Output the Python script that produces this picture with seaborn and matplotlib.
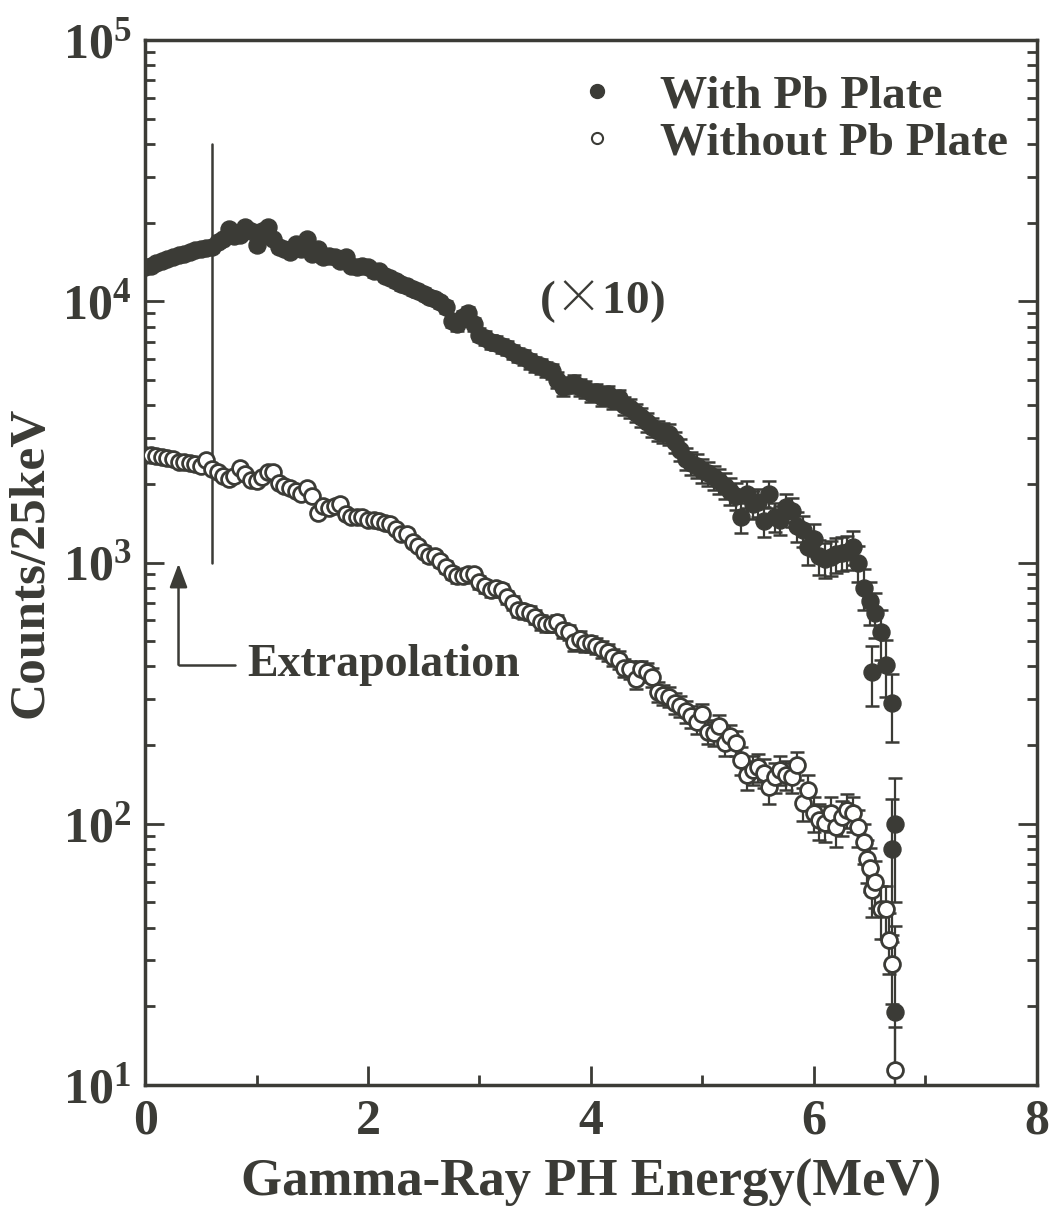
import numpy as np
import pandas as pd
import matplotlib
matplotlib.use("Agg")
import matplotlib.pyplot as plt
from matplotlib.lines import Line2D
from matplotlib.ticker import MultipleLocator, LogLocator, NullFormatter
import seaborn as sns

# Pulse-height spectra, 25 keV bins (values with the Pb plate are scaled x10)
energy_with = [
    0.00, 0.05, 0.10, 0.15, 0.20, 0.25, 0.30, 0.35, 0.40, 0.45,
    0.50, 0.55, 0.60, 0.65, 0.70, 0.75, 0.80, 0.85, 0.90, 0.95,
    1.00, 1.05, 1.10, 1.15, 1.20, 1.25, 1.30, 1.35, 1.40, 1.45,
    1.50, 1.55, 1.60, 1.65, 1.70, 1.75, 1.80, 1.85, 1.90, 1.95,
    2.00, 2.05, 2.10, 2.15, 2.20, 2.25, 2.30, 2.35, 2.40, 2.45,
    2.50, 2.55, 2.60, 2.65, 2.70, 2.75, 2.80, 2.85, 2.90, 2.95,
    3.00, 3.05, 3.10, 3.15, 3.20, 3.25, 3.30, 3.35, 3.40, 3.45,
    3.50, 3.55, 3.60, 3.65, 3.70, 3.75, 3.80, 3.85, 3.90, 3.95,
    4.00, 4.05, 4.10, 4.15, 4.20, 4.25, 4.30, 4.35, 4.40, 4.45,
    4.50, 4.55, 4.60, 4.65, 4.70, 4.75, 4.80, 4.85, 4.90, 4.95,
    5.00, 5.05, 5.10, 5.15, 5.20, 5.25, 5.30, 5.35, 5.40, 5.45,
    5.50, 5.55, 5.60, 5.65, 5.70, 5.75, 5.80, 5.85, 5.90, 5.95,
    6.00, 6.05, 6.10, 6.15, 6.20, 6.25, 6.30, 6.35, 6.40, 6.45,
    6.50, 6.525, 6.55, 6.60, 6.65, 6.70, 6.70, 6.725, 6.725,
]
counts_with = [
    13500, 13700, 13950, 14200, 14450, 14750, 15000, 15200, 15400, 15700,
    15800, 16000, 16100, 16800, 17300, 18900, 17800, 17900, 19200, 18500,
    16400, 18500, 19200, 17300, 16100, 15800, 15500, 16500, 15800, 17300,
    15200, 15800, 14750, 14850, 14750, 14200, 14750, 13700, 13500, 13700,
    13500, 13000, 13000, 12500, 12300, 11900, 11600, 11400, 11100, 10900,
    10700, 10400, 10200, 9900, 9500, 8400, 8150, 8700, 9000, 8150,
    7450, 7250, 7000, 6950, 6750, 6650, 6400, 6250, 6100, 5900,
    5750, 5650, 5500, 5400, 5000, 4700, 4800, 4850, 4700, 4600,
    4450, 4500, 4300, 4400, 4200, 4250, 4000, 3900, 3750, 3600,
    3450, 3300, 3200, 3150, 3100, 2900, 2700, 2500, 2400, 2350,
    2250, 2200, 2120, 2050, 1970, 1880, 1800, 1490, 1830, 1670,
    1700, 1440, 1830, 1500, 1460, 1630, 1570, 1380, 1330, 1150,
    1230, 1060, 1030, 1050, 1080, 1090, 1100, 1150, 1000, 800,
    710, 380, 640, 540, 405, 290, 80, 100, 19,
]

energy_without = [
    0.00, 0.05, 0.10, 0.15, 0.20, 0.25, 0.30, 0.35, 0.40, 0.45,
    0.50, 0.55, 0.60, 0.65, 0.70, 0.75, 0.80, 0.85, 0.90, 0.95,
    1.00, 1.05, 1.10, 1.15, 1.20, 1.25, 1.30, 1.35, 1.40, 1.45,
    1.50, 1.55, 1.60, 1.65, 1.70, 1.75, 1.80, 1.85, 1.90, 1.95,
    2.00, 2.05, 2.10, 2.15, 2.20, 2.25, 2.30, 2.35, 2.40, 2.45,
    2.50, 2.55, 2.60, 2.65, 2.70, 2.75, 2.80, 2.85, 2.90, 2.95,
    3.00, 3.05, 3.10, 3.15, 3.20, 3.25, 3.30, 3.35, 3.40, 3.45,
    3.50, 3.55, 3.60, 3.65, 3.70, 3.75, 3.80, 3.85, 3.90, 3.95,
    4.00, 4.05, 4.10, 4.15, 4.20, 4.25, 4.30, 4.35, 4.40, 4.45,
    4.50, 4.55, 4.60, 4.65, 4.70, 4.75, 4.80, 4.85, 4.90, 4.95,
    5.00, 5.05, 5.10, 5.15, 5.20, 5.25, 5.30, 5.35, 5.40, 5.45,
    5.50, 5.55, 5.60, 5.65, 5.70, 5.75, 5.80, 5.85, 5.90, 5.95,
    6.00, 6.05, 6.10, 6.15, 6.20, 6.25, 6.30, 6.35, 6.40, 6.45,
    6.475, 6.50, 6.525, 6.55, 6.60, 6.65, 6.675, 6.70, 6.725,
]
counts_without = [
    2590, 2570, 2550, 2540, 2520, 2480, 2430, 2420, 2400, 2380,
    2350, 2470, 2270, 2220, 2150, 2090, 2150, 2310, 2190, 2070,
    2050, 2130, 2220, 2220, 2010, 1960, 1920, 1880, 1830, 1920,
    1800, 1550, 1640, 1610, 1650, 1680, 1530, 1500, 1490, 1490,
    1460, 1460, 1440, 1420, 1400, 1340, 1290, 1290, 1200, 1160,
    1100, 1060, 1060, 1010, 960, 915, 885, 885, 900, 900,
    840, 810, 785, 800, 785, 735, 700, 660, 650, 640,
    620, 590, 580, 580, 590, 550, 540, 495, 510, 490,
    490, 480, 465, 455, 435, 425, 395, 390, 357, 390,
    380, 365, 320, 312, 307, 290, 283, 270, 258, 245,
    262, 225, 222, 236, 204, 216, 204, 175, 154, 161,
    165, 157, 138, 151, 161, 154, 151, 168, 120, 135,
    110, 103, 101, 110, 97, 106, 113, 110, 97, 85,
    73, 68, 56, 60, 47, 47, 36, 29, 11.4,
]

axis_ticks_y = [1e1, 1e2, 1e3, 1e4, 1e5]
axis_ticks_x = [0, 2, 4, 6, 8]
legend_labels = ["With Pb Plate", "Without Pb Plate"]

INK = "#3b3b36"

sns.set_theme(style="ticks")
plt.rcParams.update({
    "font.family": ["Liberation Serif", "DejaVu Serif"],
    "font.weight": "bold",
    "mathtext.fontset": "custom",
    "mathtext.rm": "Liberation Serif:bold",
    "mathtext.it": "Liberation Serif:bold",
    "mathtext.bf": "Liberation Serif:bold",
    "mathtext.sf": "Noto Sans CJK JP:light",
    "mathtext.default": "rm",
    "text.color": INK,
    "axes.edgecolor": INK,
    "axes.labelcolor": INK,
    "xtick.color": INK,
    "ytick.color": INK,
})

df_with = pd.DataFrame({"E": energy_with, "N": counts_with})
df_without = pd.DataFrame({"E": energy_without, "N": counts_without})
# Poisson-type uncertainties on the (scaled) counts
df_with["err"] = np.sqrt(25.0 * df_with["N"])
df_without["err"] = np.sqrt(2.5 * df_without["N"])

fig = plt.figure(figsize=(10.59, 12.11), dpi=100)
ax = fig.add_axes([0.137, 0.104, 0.842, 0.863])

for df in (df_with, df_without):
    lower = np.minimum(df["err"], df["N"] * 0.999)
    ax.errorbar(df["E"], df["N"], yerr=[lower, df["err"]], fmt="none",
                ecolor=INK, elinewidth=1.6, capsize=5, capthick=1.8, zorder=2)

sns.scatterplot(data=df_with, x="E", y="N", ax=ax, s=150, color=INK,
                edgecolor=INK, linewidth=1.0, zorder=3, legend=False)
sns.scatterplot(data=df_without, x="E", y="N", ax=ax, s=130, color="white",
                edgecolor=INK, linewidth=2.0, zorder=4, legend=False)

ax.set_yscale("log")
ax.set_xlim(0, 8)
ax.set_ylim(1e1, 1e5)

# Extrapolation marker: vertical line at 0.6 MeV and an arrow
ax.plot([0.6, 0.6], [1000, 40000], color=INK, lw=1.8, zorder=1)
ax.plot([0.3, 0.81], [406, 406], color=INK, lw=1.8)
ax.annotate("", xy=(0.3, 990), xytext=(0.3, 406),
            arrowprops=dict(arrowstyle="-|>,head_length=1.2,head_width=0.45",
                            color=INK, lw=1.8, shrinkA=0, shrinkB=0))
ax.text(0.92, 406, "Extrapolation", fontsize=33, fontweight="bold",
        va="center", ha="left", color=INK)
ax.text(4.1, 10000, "($\\mathsf{×}$10)", fontsize=34, fontweight="bold",
        va="center", ha="center", color=INK)

handles = [
    Line2D([], [], ls="none", marker="o", markersize=10, color=INK),
    Line2D([], [], ls="none", marker="o", markersize=8, markerfacecolor="white",
           markeredgecolor=INK, markeredgewidth=1.5),
]
leg = ax.legend(handles, legend_labels, loc="upper right", frameon=False,
                prop={"family": "Liberation Serif", "weight": "bold", "size": 34},
                handlelength=1.0, handletextpad=0.85, labelspacing=0.08,
                borderaxespad=0.2, bbox_to_anchor=(1.0, 0.994))
for t in leg.get_texts():
    t.set_color(INK)

ax.set_xlabel("Gamma-Ray PH Energy(MeV)", fontsize=38, fontweight="bold", labelpad=10)
ax.set_ylabel("Counts/25keV", fontsize=37, fontweight="bold", labelpad=6)

ax.set_xticks(axis_ticks_x)
ax.xaxis.set_minor_locator(MultipleLocator(1))
ax.set_yticks(axis_ticks_y)
ax.yaxis.set_minor_locator(LogLocator(base=10, subs=np.arange(2, 10)))
ax.yaxis.set_minor_formatter(NullFormatter())

ax.tick_params(which="both", direction="in", right=True, top=False, width=2,
               labelsize=36, pad=10)
ax.tick_params(which="major", length=14)
ax.tick_params(which="minor", length=7)
for lbl in ax.get_xticklabels() + ax.get_yticklabels():
    lbl.set_fontweight("bold")

for s in ax.spines.values():
    s.set_linewidth(2.5)
    s.set_color(INK)

fig.savefig("out.png", dpi=100, facecolor="white")
